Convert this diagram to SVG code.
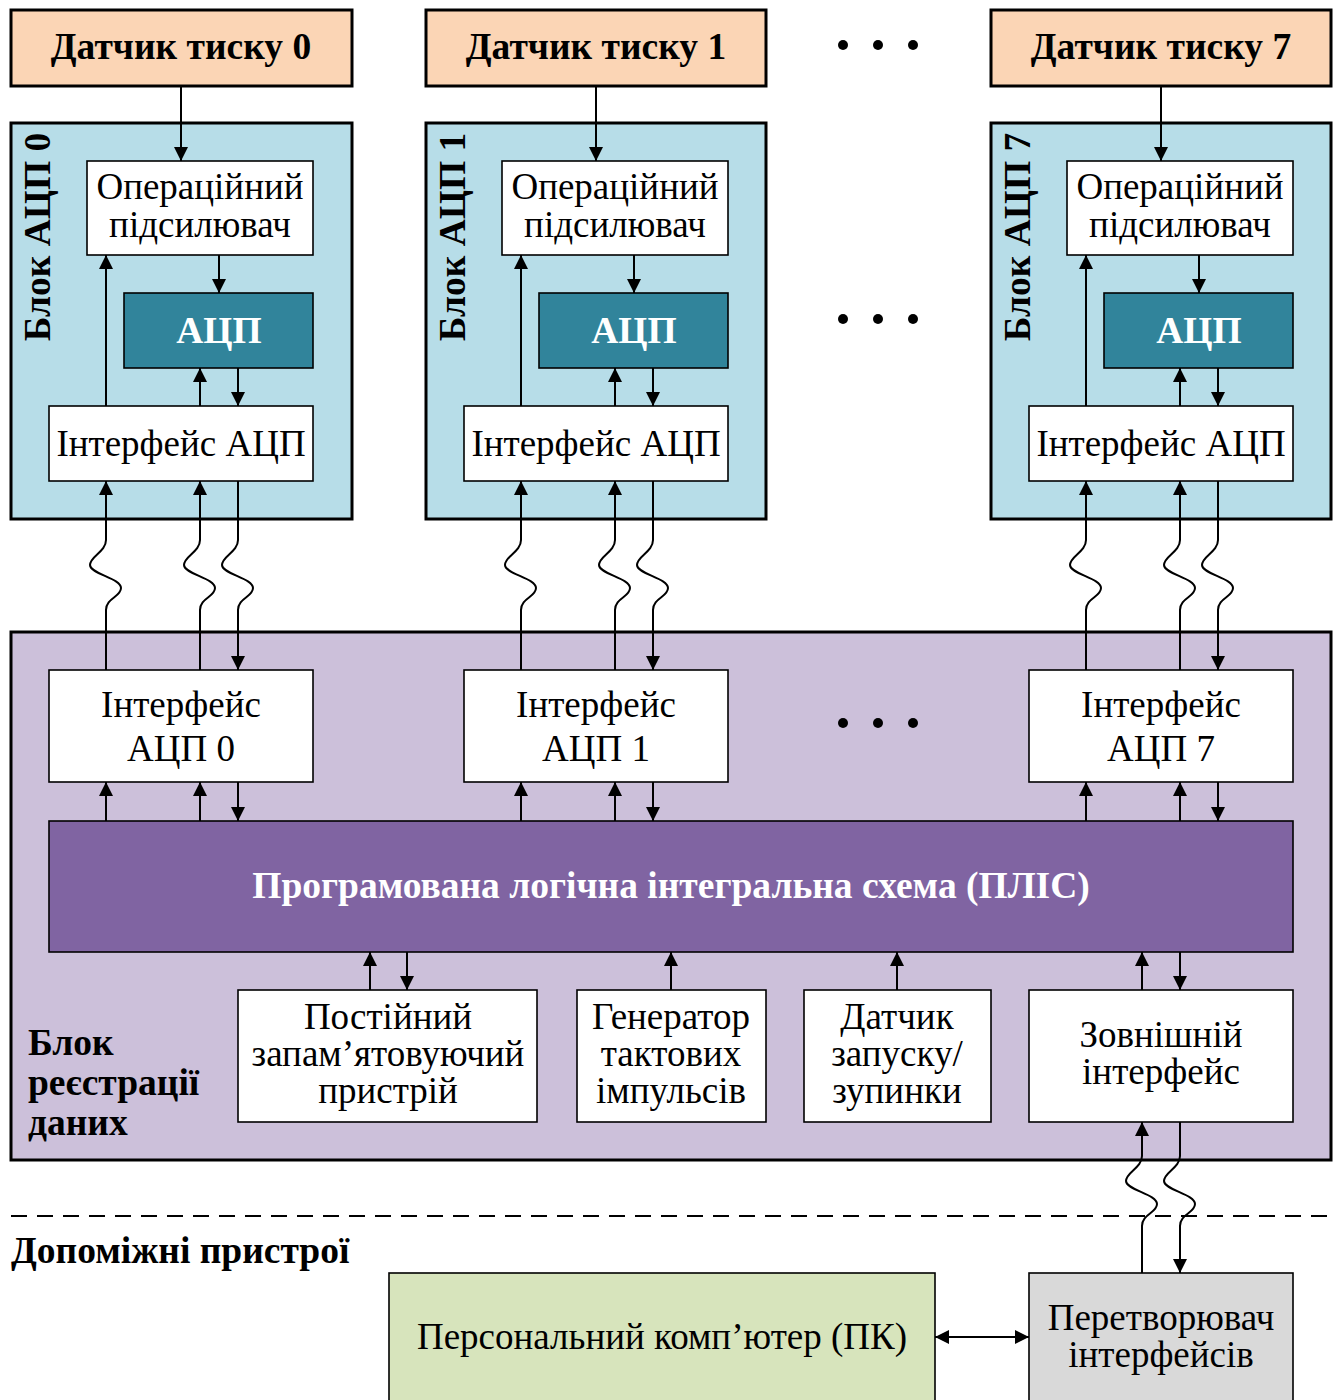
<svg xmlns="http://www.w3.org/2000/svg" width="1338" height="1400" viewBox="0 0 1338 1400">
<defs>
<marker id="ah" markerUnits="userSpaceOnUse" markerWidth="14" markerHeight="20" viewBox="0 0 14 20" refX="14" refY="7" orient="auto">
<path d="M0,0 L14,7 L0,14 Z" fill="#000"/>
</marker>
<marker id="as" markerUnits="userSpaceOnUse" markerWidth="14" markerHeight="20" viewBox="0 0 14 20" refX="0" refY="7" orient="auto">
<path d="M14,0 L0,7 L14,14 Z" fill="#000"/>
</marker>
</defs>
<style>
.big{stroke:#000;stroke-width:3}
.box{stroke:#000;stroke-width:1.6}
.t{font-family:"Liberation Serif","DejaVu Serif",serif;font-size:37px;fill:#000;text-anchor:middle}
.b{font-weight:bold;font-size:37.5px}
.w{fill:#fff}
.l{text-anchor:start}
.c{fill:none;stroke:#000;stroke-width:2}
.e{marker-end:url(#ah)}
.dot{fill:#000}
</style>
<rect width="1338" height="1400" fill="#fff"/>

<!-- sensors -->
<g id="sensor0"><rect class="big" x="11" y="10" width="341" height="76" fill="#FBD5B5"/><text class="t b" x="181" y="59">Датчик тиску 0</text></g>
<g id="sensor1"><rect class="big" x="426" y="10" width="340" height="76" fill="#FBD5B5"/><text class="t b" x="596" y="59">Датчик тиску 1</text></g>
<g id="sensor7"><rect class="big" x="991" y="10" width="340" height="76" fill="#FBD5B5"/><text class="t b" x="1161" y="59">Датчик тиску 7</text></g>

<!-- ADC blocks -->
<g id="adcblock0"><rect class="big" x="11" y="123" width="341" height="396" fill="#B7DDE8"/><text class="t b" transform="translate(50,237) rotate(-90)">Блок АЦП 0</text></g>
<g id="adcblock1"><rect class="big" x="426" y="123" width="340" height="396" fill="#B7DDE8"/><text class="t b" transform="translate(465,237) rotate(-90)">Блок АЦП 1</text></g>
<g id="adcblock7"><rect class="big" x="991" y="123" width="340" height="396" fill="#B7DDE8"/><text class="t b" transform="translate(1030,237) rotate(-90)">Блок АЦП 7</text></g>

<g id="opamp0"><rect class="box" x="87" y="161" width="226" height="94" fill="#fff"/><text class="t" x="200" y="199">Операційний</text><text class="t" x="200" y="237">підсилювач</text></g>
<g id="opamp1"><rect class="box" x="502" y="161" width="226" height="94" fill="#fff"/><text class="t" x="615" y="199">Операційний</text><text class="t" x="615" y="237">підсилювач</text></g>
<g id="opamp7"><rect class="box" x="1067" y="161" width="226" height="94" fill="#fff"/><text class="t" x="1180" y="199">Операційний</text><text class="t" x="1180" y="237">підсилювач</text></g>

<g id="adc0"><rect class="box" x="124" y="293" width="189" height="75" fill="#31849B"/><text class="t b w" x="219" y="343">АЦП</text></g>
<g id="adc1"><rect class="box" x="539" y="293" width="189" height="75" fill="#31849B"/><text class="t b w" x="634" y="343">АЦП</text></g>
<g id="adc7"><rect class="box" x="1104" y="293" width="189" height="75" fill="#31849B"/><text class="t b w" x="1199" y="343">АЦП</text></g>

<g id="adcif0"><rect class="box" x="49" y="406" width="264" height="75" fill="#fff"/><text class="t" x="181" y="456">Інтерфейс АЦП</text></g>
<g id="adcif1"><rect class="box" x="464" y="406" width="264" height="75" fill="#fff"/><text class="t" x="596" y="456">Інтерфейс АЦП</text></g>
<g id="adcif7"><rect class="box" x="1029" y="406" width="264" height="75" fill="#fff"/><text class="t" x="1161" y="456">Інтерфейс АЦП</text></g>

<!-- registration block -->
<g id="regblock"><rect class="big" x="11" y="632" width="1320" height="528" fill="#CCC0DA"/><text class="t b l" x="28" y="1055">Блок</text><text class="t b l" x="28" y="1095">реєстрації</text><text class="t b l" x="28" y="1135">даних</text></g>

<g id="rif0"><rect class="box" x="49" y="670" width="264" height="112" fill="#fff"/><text class="t" x="181" y="717">Інтерфейс</text><text class="t" x="181" y="761">АЦП 0</text></g>
<g id="rif1"><rect class="box" x="464" y="670" width="264" height="112" fill="#fff"/><text class="t" x="596" y="717">Інтерфейс</text><text class="t" x="596" y="761">АЦП 1</text></g>
<g id="rif7"><rect class="box" x="1029" y="670" width="264" height="112" fill="#fff"/><text class="t" x="1161" y="717">Інтерфейс</text><text class="t" x="1161" y="761">АЦП 7</text></g>

<g id="plis"><rect class="box" x="49" y="821" width="1244" height="131" fill="#8064A2"/><text class="t b w" x="671" y="898">Програмована логічна інтегральна схема (ПЛІС)</text></g>

<g id="rom"><rect class="box" x="238" y="990" width="299" height="132" fill="#fff"/><text class="t" x="388" y="1029">Постійний</text><text class="t" x="388" y="1066">запам’ятовуючий</text><text class="t" x="388" y="1103">пристрій</text></g>
<g id="gen"><rect class="box" x="577" y="990" width="189" height="132" fill="#fff"/><text class="t" x="671" y="1029">Генератор</text><text class="t" x="671" y="1066">тактових</text><text class="t" x="671" y="1103">імпульсів</text></g>
<g id="startstop"><rect class="box" x="804" y="990" width="187" height="132" fill="#fff"/><text class="t" x="897" y="1029">Датчик</text><text class="t" x="897" y="1066">запуску/</text><text class="t" x="897" y="1103">зупинки</text></g>
<g id="extif"><rect class="box" x="1029" y="990" width="264" height="132" fill="#fff"/><text class="t" x="1161" y="1047">Зовнішній</text><text class="t" x="1161" y="1084">інтерфейс</text></g>

<!-- auxiliary -->
<g id="aux"><line x1="11" y1="1216" x2="1331" y2="1216" stroke="#000" stroke-width="2" stroke-dasharray="16,10"/><text class="t b l" x="11" y="1263">Допоміжні пристрої</text></g>
<g id="pc"><rect class="box" x="389" y="1273" width="546" height="140" fill="#D7E4BC"/><text class="t" x="662" y="1349">Персональний комп’ютер (ПК)</text></g>
<g id="conv"><rect class="box" x="1029" y="1273" width="264" height="140" fill="#D9D9D9"/><text class="t" x="1161" y="1330">Перетворювач</text><text class="t" x="1161" y="1367">інтерфейсів</text></g>

<!-- dots -->
<g id="dots">
<circle class="dot" cx="843" cy="45" r="5"/><circle class="dot" cx="878" cy="45" r="5"/><circle class="dot" cx="913" cy="45" r="5"/>
<circle class="dot" cx="843" cy="319" r="5"/><circle class="dot" cx="878" cy="319" r="5"/><circle class="dot" cx="913" cy="319" r="5"/>
<circle class="dot" cx="843" cy="723" r="5"/><circle class="dot" cx="878" cy="723" r="5"/><circle class="dot" cx="913" cy="723" r="5"/>
</g>

<!-- connectors -->
<g id="connectors">
<!-- block 0 -->
<path class="c e" d="M181,86 V161"/>
<path class="c e" d="M219,255 V293"/>
<path class="c e" d="M106,406 V255"/>
<path class="c e" d="M200,406 V368"/>
<path class="c e" d="M238,368 V406"/>
<path class="c e" d="M106,670 V610 C106,598 121,597 121,588 C121,578 90,574 90,565 C90,556 106,552 106,540 V481"/>
<path class="c e" d="M200,670 V610 C200,598 215,597 215,588 C215,578 184,574 184,565 C184,556 200,552 200,540 V481"/>
<path class="c e" d="M238,481 V540 C238,552 222,556 222,565 C222,574 253,578 253,588 C253,597 238,598 238,610 V670"/>
<path class="c e" d="M106,821 V782"/>
<path class="c e" d="M200,821 V782"/>
<path class="c e" d="M238,782 V821"/>
<!-- block 1 -->
<path class="c e" d="M596,86 V161"/>
<path class="c e" d="M634,255 V293"/>
<path class="c e" d="M521,406 V255"/>
<path class="c e" d="M615,406 V368"/>
<path class="c e" d="M653,368 V406"/>
<path class="c e" d="M521,670 V610 C521,598 536,597 536,588 C536,578 505,574 505,565 C505,556 521,552 521,540 V481"/>
<path class="c e" d="M615,670 V610 C615,598 630,597 630,588 C630,578 599,574 599,565 C599,556 615,552 615,540 V481"/>
<path class="c e" d="M653,481 V540 C653,552 637,556 637,565 C637,574 668,578 668,588 C668,597 653,598 653,610 V670"/>
<path class="c e" d="M521,821 V782"/>
<path class="c e" d="M615,821 V782"/>
<path class="c e" d="M653,782 V821"/>
<!-- block 7 -->
<path class="c e" d="M1161,86 V161"/>
<path class="c e" d="M1199,255 V293"/>
<path class="c e" d="M1086,406 V255"/>
<path class="c e" d="M1180,406 V368"/>
<path class="c e" d="M1218,368 V406"/>
<path class="c e" d="M1086,670 V610 C1086,598 1101,597 1101,588 C1101,578 1070,574 1070,565 C1070,556 1086,552 1086,540 V481"/>
<path class="c e" d="M1180,670 V610 C1180,598 1195,597 1195,588 C1195,578 1164,574 1164,565 C1164,556 1180,552 1180,540 V481"/>
<path class="c e" d="M1218,481 V540 C1218,552 1202,556 1202,565 C1202,574 1233,578 1233,588 C1233,597 1218,598 1218,610 V670"/>
<path class="c e" d="M1086,821 V782"/>
<path class="c e" d="M1180,821 V782"/>
<path class="c e" d="M1218,782 V821"/>
<!-- bottom -->
<path class="c e" d="M370,990 V952"/>
<path class="c e" d="M407,952 V990"/>
<path class="c e" d="M671,990 V952"/>
<path class="c e" d="M897,990 V952"/>
<path class="c e" d="M1142,990 V952"/>
<path class="c e" d="M1180,952 V990"/>
<path class="c e" d="M1142,1273 V1226 C1142,1214 1157,1213 1157,1204 C1157,1194 1126,1190 1126,1181 C1126,1172 1142,1168 1142,1156 V1122"/>
<path class="c e" d="M1180,1122 V1156 C1180,1168 1164,1172 1164,1181 C1164,1190 1195,1194 1195,1204 C1195,1213 1180,1214 1180,1226 V1273"/>
<path class="c" style="marker-start:url(#as);marker-end:url(#ah)" d="M935,1337 H1029"/>
</g>
</svg>
